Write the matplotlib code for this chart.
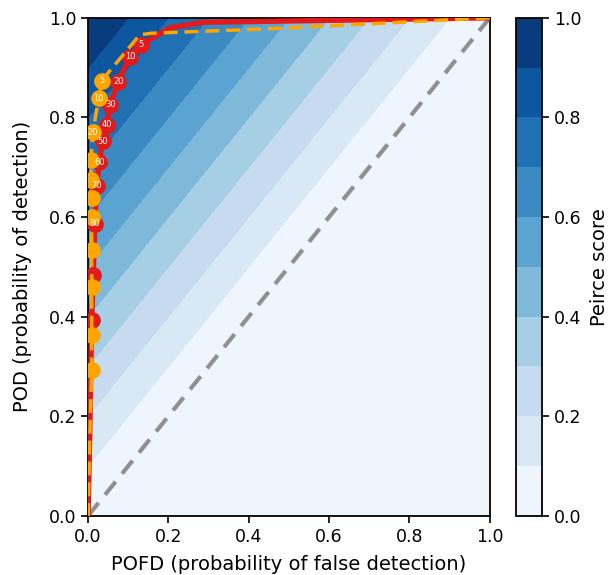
import numpy as np
import matplotlib
matplotlib.use("Agg")
import matplotlib.pyplot as plt

# red curve (solid), ROC points
red_pofd = [1.0, 0.453, 0.286, 0.204, 0.132, 0.104, 0.075, 0.055, 0.046, 0.036, 0.028, 0.021, 0.017, 0.013, 0.009, 0.005, 0.0]
red_pod = [1.0, 0.993, 0.991, 0.98, 0.946, 0.922, 0.872, 0.825, 0.785, 0.752, 0.710, 0.663, 0.586, 0.484, 0.394, 0.2, 0.0]
red_marker_pofd = [0.132, 0.104, 0.075, 0.055, 0.046, 0.036, 0.028, 0.021, 0.017, 0.013, 0.009]
red_marker_pod = [0.946, 0.922, 0.872, 0.825, 0.785, 0.752, 0.710, 0.663, 0.586, 0.484, 0.394]
red_labels = ['5', '10', '20', '30', '40', '50', '60', '70', '80', '', '']

# orange curve (dashed)
orange_pofd = [1.0, 0.45, 0.158, 0.129, 0.034, 0.026, 0.012, 0.007, 0.007, 0.009, 0.009, 0.009, 0.009, 0.009, 0.009, 0.004, 0.0]
orange_pod = [1.0, 0.978, 0.969, 0.966, 0.874, 0.838, 0.770, 0.715, 0.675, 0.638, 0.601, 0.534, 0.460, 0.363, 0.293, 0.15, 0.0]
orange_marker_pofd = [0.034, 0.026, 0.012, 0.007, 0.007, 0.009, 0.009, 0.009, 0.009, 0.009, 0.009]
orange_marker_pod = [0.874, 0.838, 0.770, 0.715, 0.675, 0.638, 0.601, 0.534, 0.460, 0.363, 0.293]
orange_labels = ['5', '10', '20', '', '', '', '', '', '', '', '']

levels = np.linspace(0, 1, 11)

fig = plt.figure(figsize=(6.16, 5.75), dpi=100)
ax = fig.add_axes([0.143, 0.103, 0.652, 0.866])
cax = fig.add_axes([0.838, 0.103, 0.042, 0.866])

x = np.linspace(0, 1, 401)
X, Y = np.meshgrid(x, x)
peirce = np.clip(Y - X, 0, 1)
cf = ax.contourf(X, Y, peirce, levels=levels, cmap='Blues')

ax.plot([0, 1], [0, 1], '--', color='#909090', lw=3, dashes=(4, 2.5))

ax.plot(red_pofd, red_pod, '-', color='#e31a1c', lw=3.8, zorder=3)
ax.plot(red_marker_pofd, red_marker_pod, 'o', color='#e31a1c', ms=11, zorder=4)
for px, py, lab in zip(red_marker_pofd, red_marker_pod, red_labels):
    ax.text(px, py, lab, color='white', fontsize=6, ha='center', va='center', zorder=6)

ax.plot(orange_pofd, orange_pod, '--', color='#ffa500', lw=2.5, dashes=(4, 2), zorder=5)
ax.plot(orange_marker_pofd, orange_marker_pod, 'o', color='#ffa500', ms=11, zorder=5)
for px, py, lab in zip(orange_marker_pofd, orange_marker_pod, orange_labels):
    ax.text(px, py, lab, color='white', fontsize=6, ha='center', va='center', zorder=6)

ax.set_xlim(0, 1)
ax.set_ylim(0, 1)
ax.set_xticks(np.linspace(0, 1, 6))
ax.set_yticks(np.linspace(0, 1, 6))
ax.tick_params(labelsize=12.5, length=5, width=1.2)
for s in ax.spines.values():
    s.set_linewidth(1.3)
ax.set_xlabel('POFD (probability of false detection)', fontsize=14, labelpad=7)
ax.set_ylabel('POD (probability of detection)', fontsize=14, labelpad=12)

cb = fig.colorbar(cf, cax=cax, ticks=np.linspace(0, 1, 6))
cb.ax.tick_params(labelsize=12.5, length=5, width=1.2)
cb.outline.set_linewidth(1.3)
cb.set_label('Peirce score', fontsize=14, labelpad=6)

fig.savefig('out.png', dpi=100)
